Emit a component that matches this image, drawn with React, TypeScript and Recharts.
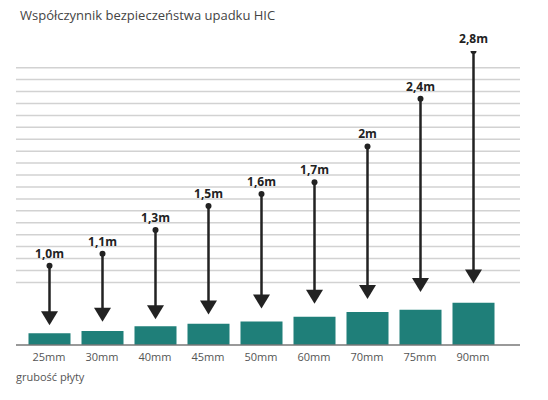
import { ComposedChart, Bar, XAxis, YAxis, CartesianGrid, LabelList } from "recharts";

const thicknessLabels = ["25mm", "30mm", "40mm", "45mm", "50mm", "60mm", "70mm", "75mm", "90mm"];
const thicknessValues = [25, 30, 40, 45, 50, 60, 70, 75, 90];
const fallHeights = [1.0, 1.1, 1.3, 1.5, 1.6, 1.7, 2.0, 2.4, 2.8];
const fallLabels = ["1,0m", "1,1m", "1,3m", "1,5m", "1,6m", "1,7m", "2m", "2,4m", "2,8m"];
// where each arrow head ends (in metres on the same scale)
const arrowEnds = [0.5, 0.53, 0.55, 0.59, 0.64, 0.68, 0.72, 0.78, 0.85];
const gridLevels = [0.86, 0.96, 1.06, 1.16, 1.26, 1.36, 1.46, 1.56, 1.66, 1.76, 1.86, 1.96, 2.06, 2.16, 2.26, 2.36, 2.46, 2.56, 2.66];

const data = thicknessLabels.map((name, i) => ({
  name,
  mm: thicknessValues[i],
  fall: [arrowEnds[i], fallHeights[i]],
  label: fallLabels[i],
}));

function Arrow(props: any) {
  const { x, y, width, height } = props;
  const cx = x + width / 2;
  const top = y;
  const tip = y + height;
  const headH = 14;
  const headW = 17;
  return (
    <g>
      <line x1={cx} y1={top} x2={cx} y2={tip - headH + 1} stroke="#222" strokeWidth={2.5} />
      <circle cx={cx} cy={top} r={3} fill="#222" />
      <path d={`M${cx - headW / 2},${tip - headH} L${cx + headW / 2},${tip - headH} L${cx},${tip} Z`} fill="#222" />
    </g>
  );
}

export default function App() {
  return (
    <div style={{ position: "absolute", left: 0, top: 0, width: 548, height: 400, background: "#fff", fontFamily: "'Open Sans', sans-serif" }}>
      <div style={{ position: "absolute", left: 20, top: 6, fontSize: 13, color: "#444", lineHeight: "18px" }}>
        Współczynnik bezpieczeństwa upadku HIC
      </div>
      <ComposedChart width={548} height={400} data={data} margin={{ top: 51, right: 28, bottom: 30, left: 16 }}>
        <YAxis yAxisId="mm" hide domain={[0, 625]} />
        <YAxis yAxisId="m" hide domain={[0.335, 2.8]} ticks={gridLevels} interval={0} allowDataOverflow />
        <CartesianGrid xAxisId="main" yAxisId="m" vertical={false} syncWithTicks stroke="#d2d2d2" strokeWidth={1.5} />
        <XAxis
          xAxisId="main"
          dataKey="name"
          height={25}
          padding={{ left: 6.5, right: 20.5 }}
          tickLine={false}
          axisLine={{ stroke: "#777", strokeWidth: 1.5 }}
          tick={{ fill: "#555", fontSize: 11 }}
          interval={0}
        />
        <XAxis xAxisId="arrows" dataKey="name" hide orientation="top" height={0} padding={{ left: 6.5, right: 20.5 }} />
        <Bar xAxisId="main" yAxisId="mm" dataKey="mm" barSize={42} fill="#1f7f79" isAnimationActive={false} />
        <Bar xAxisId="arrows" yAxisId="m" dataKey="fall" barSize={20} shape={<Arrow />} isAnimationActive={false}>
          <LabelList dataKey="label" position="top" offset={8} fill="#222" fontSize={12} fontWeight={700} />
        </Bar>
      </ComposedChart>
      <div style={{ position: "absolute", left: 16, top: 369, fontSize: 11, color: "#555", lineHeight: "16px" }}>
        grubość płyty
      </div>
    </div>
  );
}
